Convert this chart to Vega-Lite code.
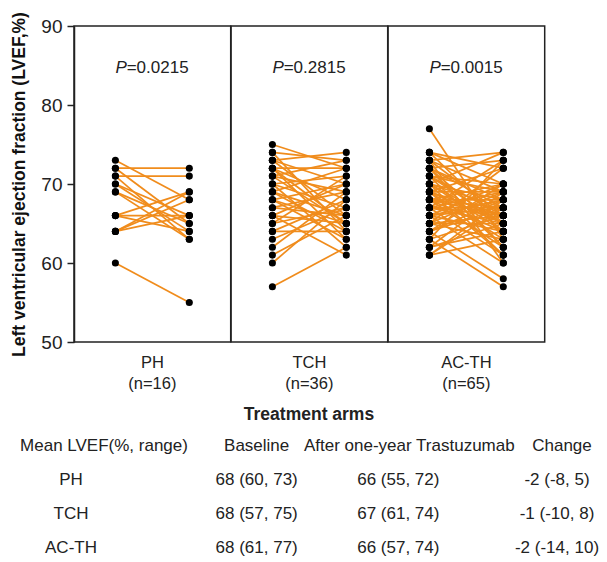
{
  "$schema": "https://vega.github.io/schema/vega-lite/v6.json",
  "padding": {"left": 10, "top": 11, "right": 5, "bottom": 5},
  "config": {
    "font": "Liberation Sans",
    "view": {"stroke": "#222", "strokeWidth": 1.5},
    "text": {"color": "#222"}
  },
  "spacing": 13,
  "vconcat": [
    {
      "data": {"values": [
        {"arm":"PH","id":1,"Baseline":73,"After":68},{"arm":"PH","id":2,"Baseline":72,"After":72},{"arm":"PH","id":3,"Baseline":72,"After":65},{"arm":"PH","id":4,"Baseline":71,"After":63},
        {"arm":"PH","id":5,"Baseline":71,"After":71},{"arm":"PH","id":6,"Baseline":70,"After":66},{"arm":"PH","id":7,"Baseline":70,"After":64},{"arm":"PH","id":8,"Baseline":69,"After":65},
        {"arm":"PH","id":9,"Baseline":69,"After":63},{"arm":"PH","id":10,"Baseline":66,"After":69},{"arm":"PH","id":11,"Baseline":66,"After":64},{"arm":"PH","id":12,"Baseline":66,"After":66},
        {"arm":"PH","id":13,"Baseline":64,"After":69},{"arm":"PH","id":14,"Baseline":64,"After":68},{"arm":"PH","id":15,"Baseline":64,"After":66},{"arm":"PH","id":16,"Baseline":60,"After":55},
        {"arm":"TCH","id":1,"Baseline":75,"After":72},{"arm":"TCH","id":2,"Baseline":74,"After":73},{"arm":"TCH","id":3,"Baseline":74,"After":64},{"arm":"TCH","id":4,"Baseline":73,"After":74},
        {"arm":"TCH","id":5,"Baseline":73,"After":66},{"arm":"TCH","id":6,"Baseline":73,"After":70},{"arm":"TCH","id":7,"Baseline":72,"After":72},{"arm":"TCH","id":8,"Baseline":72,"After":65},
        {"arm":"TCH","id":9,"Baseline":72,"After":68},{"arm":"TCH","id":10,"Baseline":72,"After":63},{"arm":"TCH","id":11,"Baseline":71,"After":69},{"arm":"TCH","id":12,"Baseline":71,"After":65},
        {"arm":"TCH","id":13,"Baseline":71,"After":73},{"arm":"TCH","id":14,"Baseline":70,"After":67},{"arm":"TCH","id":15,"Baseline":70,"After":62},{"arm":"TCH","id":16,"Baseline":70,"After":71},
        {"arm":"TCH","id":17,"Baseline":69,"After":66},{"arm":"TCH","id":18,"Baseline":69,"After":72},{"arm":"TCH","id":19,"Baseline":69,"After":64},{"arm":"TCH","id":20,"Baseline":68,"After":70},
        {"arm":"TCH","id":21,"Baseline":68,"After":65},{"arm":"TCH","id":22,"Baseline":68,"After":63},{"arm":"TCH","id":23,"Baseline":67,"After":69},{"arm":"TCH","id":24,"Baseline":67,"After":66},
        {"arm":"TCH","id":25,"Baseline":66,"After":70},{"arm":"TCH","id":26,"Baseline":66,"After":65},{"arm":"TCH","id":27,"Baseline":66,"After":61},{"arm":"TCH","id":28,"Baseline":65,"After":67},
        {"arm":"TCH","id":29,"Baseline":65,"After":71},{"arm":"TCH","id":30,"Baseline":64,"After":68},{"arm":"TCH","id":31,"Baseline":64,"After":64},{"arm":"TCH","id":32,"Baseline":63,"After":67},
        {"arm":"TCH","id":33,"Baseline":62,"After":69},{"arm":"TCH","id":34,"Baseline":61,"After":66},{"arm":"TCH","id":35,"Baseline":60,"After":68},{"arm":"TCH","id":36,"Baseline":57,"After":62},
        {"arm":"AC-TH","id":1,"Baseline":77,"After":63},{"arm":"AC-TH","id":2,"Baseline":74,"After":72},{"arm":"AC-TH","id":3,"Baseline":74,"After":65},{"arm":"AC-TH","id":4,"Baseline":74,"After":70},
        {"arm":"AC-TH","id":5,"Baseline":73,"After":74},{"arm":"AC-TH","id":6,"Baseline":73,"After":66},{"arm":"AC-TH","id":7,"Baseline":73,"After":69},{"arm":"AC-TH","id":8,"Baseline":73,"After":60},
        {"arm":"AC-TH","id":9,"Baseline":72,"After":73},{"arm":"AC-TH","id":10,"Baseline":72,"After":67},{"arm":"AC-TH","id":11,"Baseline":72,"After":64},{"arm":"AC-TH","id":12,"Baseline":72,"After":68},
        {"arm":"AC-TH","id":13,"Baseline":72,"After":62},{"arm":"AC-TH","id":14,"Baseline":71,"After":70},{"arm":"AC-TH","id":15,"Baseline":71,"After":65},{"arm":"AC-TH","id":16,"Baseline":71,"After":62},
        {"arm":"AC-TH","id":17,"Baseline":71,"After":69},{"arm":"AC-TH","id":18,"Baseline":71,"After":66},{"arm":"AC-TH","id":19,"Baseline":70,"After":74},{"arm":"AC-TH","id":20,"Baseline":70,"After":67},
        {"arm":"AC-TH","id":21,"Baseline":70,"After":64},{"arm":"AC-TH","id":22,"Baseline":70,"After":68},{"arm":"AC-TH","id":23,"Baseline":70,"After":61},{"arm":"AC-TH","id":24,"Baseline":70,"After":65},
        {"arm":"AC-TH","id":25,"Baseline":69,"After":72},{"arm":"AC-TH","id":26,"Baseline":69,"After":66},{"arm":"AC-TH","id":27,"Baseline":69,"After":63},{"arm":"AC-TH","id":28,"Baseline":69,"After":69},
        {"arm":"AC-TH","id":29,"Baseline":69,"After":65},{"arm":"AC-TH","id":30,"Baseline":69,"After":61},{"arm":"AC-TH","id":31,"Baseline":68,"After":70},{"arm":"AC-TH","id":32,"Baseline":68,"After":67},
        {"arm":"AC-TH","id":33,"Baseline":68,"After":64},{"arm":"AC-TH","id":34,"Baseline":68,"After":66},{"arm":"AC-TH","id":35,"Baseline":68,"After":62},{"arm":"AC-TH","id":36,"Baseline":68,"After":68},
        {"arm":"AC-TH","id":37,"Baseline":67,"After":73},{"arm":"AC-TH","id":38,"Baseline":67,"After":65},{"arm":"AC-TH","id":39,"Baseline":67,"After":69},{"arm":"AC-TH","id":40,"Baseline":67,"After":61},
        {"arm":"AC-TH","id":41,"Baseline":67,"After":67},{"arm":"AC-TH","id":42,"Baseline":67,"After":66},{"arm":"AC-TH","id":43,"Baseline":66,"After":68},{"arm":"AC-TH","id":44,"Baseline":66,"After":64},
        {"arm":"AC-TH","id":45,"Baseline":66,"After":70},{"arm":"AC-TH","id":46,"Baseline":66,"After":60},{"arm":"AC-TH","id":47,"Baseline":66,"After":67},{"arm":"AC-TH","id":48,"Baseline":65,"After":69},
        {"arm":"AC-TH","id":49,"Baseline":65,"After":63},{"arm":"AC-TH","id":50,"Baseline":65,"After":66},{"arm":"AC-TH","id":51,"Baseline":65,"After":72},{"arm":"AC-TH","id":52,"Baseline":65,"After":65},
        {"arm":"AC-TH","id":53,"Baseline":64,"After":68},{"arm":"AC-TH","id":54,"Baseline":64,"After":58},{"arm":"AC-TH","id":55,"Baseline":64,"After":67},{"arm":"AC-TH","id":56,"Baseline":64,"After":70},
        {"arm":"AC-TH","id":57,"Baseline":63,"After":73},{"arm":"AC-TH","id":58,"Baseline":63,"After":66},{"arm":"AC-TH","id":59,"Baseline":63,"After":57},{"arm":"AC-TH","id":60,"Baseline":62,"After":69},
        {"arm":"AC-TH","id":61,"Baseline":62,"After":65},{"arm":"AC-TH","id":62,"Baseline":62,"After":64},{"arm":"AC-TH","id":63,"Baseline":61,"After":68},{"arm":"AC-TH","id":64,"Baseline":61,"After":67},
        {"arm":"AC-TH","id":65,"Baseline":61,"After":63},
        {"arm":"PH","p":"0.0215"},{"arm":"TCH","p":"0.2815"},{"arm":"AC-TH","p":"0.0015"}
      ]},
      "facet": {
        "column": {
          "field": "arm", "type": "nominal", "sort": ["PH", "TCH", "AC-TH"],
          "title": "Treatment arms",
          "header": {
            "labelOrient": "bottom", "titleOrient": "bottom",
            "labelFontSize": 16.5, "labelLineHeight": 21, "labelPadding": 13, "labelColor": "#222",
            "labelExpr": "datum.value == 'PH' ? ['PH', '(n=16)'] : datum.value == 'TCH' ? ['TCH', '(n=36)'] : ['AC-TH', '(n=65)']",
            "titleFontSize": 17.5, "titleFontWeight": "bold", "titlePadding": 3, "titleColor": "#222"
          }
        }
      },
      "spacing": 0,
      "bounds": "flush",
      "spec": {
        "width": 156.7,
        "height": 316,
        "layer": [
          {
            "transform": [{"filter": "isValid(datum.id)"}, {"fold": ["Baseline", "After"], "as": ["time", "lvef"]}],
            "mark": {"type": "line", "color": "#F08C1C", "strokeWidth": 1.7},
            "encoding": {
              "x": {"field": "time", "type": "nominal", "scale": {"domain": ["Baseline", "After"], "padding": 0.56}, "axis": null},
              "y": {"field": "lvef", "type": "quantitative", "scale": {"domain": [50, 90], "zero": false, "nice": false},
                    "axis": {"values": [50, 60, 70, 80, 90], "grid": false, "tickSize": 7, "labelFontSize": 19, "labelPadding": 5,
                             "labelColor": "#222", "domainColor": "#222", "tickColor": "#222", "domainWidth": 1.5, "tickWidth": 1.5,
                             "title": "Left ventricular ejection fraction (LVEF,%)", "titleFontSize": 17.5, "titleFontWeight": "bold",
                             "titleColor": "#111", "titlePadding": 12}},
              "detail": {"field": "id", "type": "nominal"}
            }
          },
          {
            "transform": [{"filter": "isValid(datum.id)"}, {"fold": ["Baseline", "After"], "as": ["time", "lvef"]}],
            "mark": {"type": "point", "filled": true, "color": "#000", "size": 50, "opacity": 1},
            "encoding": {
              "x": {"field": "time", "type": "nominal", "scale": {"domain": ["Baseline", "After"], "padding": 0.56}, "axis": null},
              "y": {"field": "lvef", "type": "quantitative"}
            }
          },
          {
            "transform": [{"filter": "isValid(datum.p)"}],
            "mark": {"type": "text", "align": "left", "baseline": "middle", "fontSize": 17, "fontStyle": "italic"},
            "encoding": {
              "x": {"datum": "Baseline", "type": "nominal"},
              "y": {"datum": 84.7, "type": "quantitative"},
              "text": {"value": "P"}
            }
          },
          {
            "transform": [{"filter": "isValid(datum.p)"}],
            "mark": {"type": "text", "align": "left", "baseline": "middle", "fontSize": 17, "dx": 11.3},
            "encoding": {
              "x": {"datum": "Baseline", "type": "nominal"},
              "y": {"datum": 84.7, "type": "quantitative"},
              "text": {"value": "="}
            }
          },
          {
            "transform": [{"filter": "isValid(datum.p)"}],
            "mark": {"type": "text", "align": "left", "baseline": "middle", "fontSize": 17, "dx": 21.2},
            "encoding": {
              "x": {"datum": "Baseline", "type": "nominal"},
              "y": {"datum": 84.7, "type": "quantitative"},
              "text": {"field": "p", "type": "nominal"}
            }
          }
        ]
      }
    },
    {
      "width": 470,
      "height": 102,
      "view": {"stroke": null},
      "layer": [
        {
          "data": {"values": [
            {"col": "label", "text": "Mean LVEF(%, range)"},
            {"col": "Baseline", "text": "Baseline"},
            {"col": "After", "text": "After one-year Trastuzumab"},
            {"col": "Change", "text": "Change"}
          ]},
          "mark": {"type": "text", "fontSize": 17, "baseline": "middle"},
          "encoding": {
            "x": {"field": "col", "type": "nominal", "scale": {"domain": ["label", "Baseline", "After", "Change"], "range": [30, 488], "padding": 0}, "axis": null},
            "y": {"datum": "Header", "type": "nominal", "scale": {"domain": ["Header", "PH", "TCH", "AC-TH"], "padding": 0}, "axis": null},
            "text": {"field": "text", "type": "nominal"}
          }
        },
        {
          "data": {"name": "table"},
          "mark": {"type": "text", "fontSize": 17, "baseline": "middle", "dx": -33},
          "encoding": {
            "x": {"datum": "label", "type": "nominal"},
            "y": {"field": "arm", "type": "nominal"},
            "text": {"field": "arm", "type": "nominal"}
          }
        },
        {
          "data": {"name": "table"},
          "mark": {"type": "text", "fontSize": 17, "baseline": "middle", "dx": 0},
          "encoding": {
            "x": {"datum": "Baseline", "type": "nominal"},
            "y": {"field": "arm", "type": "nominal"},
            "text": {"field": "Baseline", "type": "nominal"}
          }
        },
        {
          "data": {"name": "table"},
          "mark": {"type": "text", "fontSize": 17, "baseline": "middle", "dx": -11},
          "encoding": {
            "x": {"datum": "After", "type": "nominal"},
            "y": {"field": "arm", "type": "nominal"},
            "text": {"field": "After", "type": "nominal"}
          }
        },
        {
          "data": {"name": "table"},
          "mark": {"type": "text", "fontSize": 17, "baseline": "middle", "dx": -5},
          "encoding": {
            "x": {"datum": "Change", "type": "nominal"},
            "y": {"field": "arm", "type": "nominal"},
            "text": {"field": "Change", "type": "nominal"}
          }
        }
      ]
    }
  ],
  "datasets": {
    "table": [
      {"arm": "PH", "Baseline": "68 (60, 73)", "After": "66 (55, 72)", "Change": "-2 (-8, 5)"},
      {"arm": "TCH", "Baseline": "68 (57, 75)", "After": "67 (61, 74)", "Change": "-1 (-10, 8)"},
      {"arm": "AC-TH", "Baseline": "68 (61, 77)", "After": "66 (57, 74)", "Change": "-2 (-14, 10)"}
    ]
  }
}
